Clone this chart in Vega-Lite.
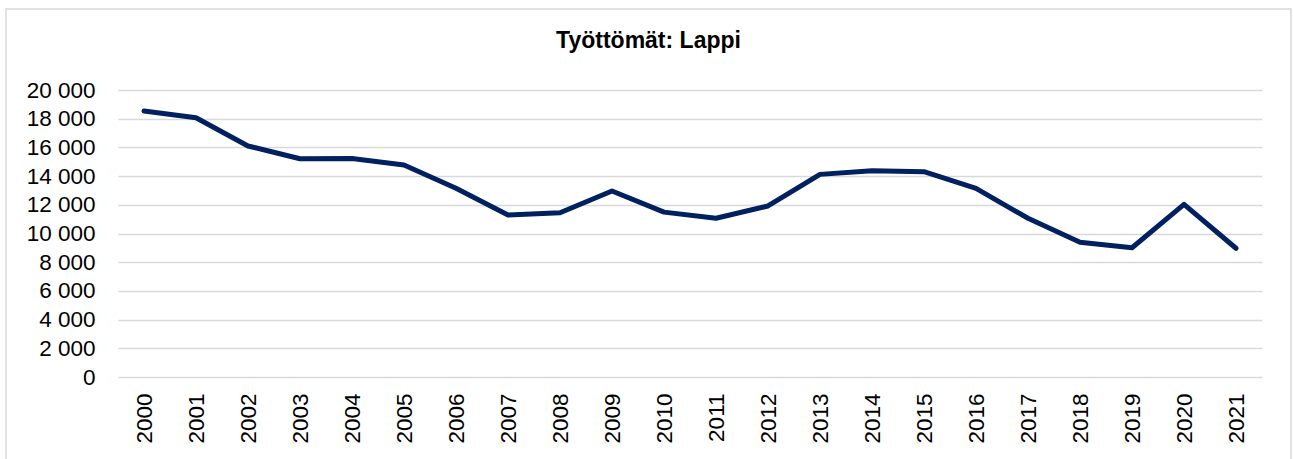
{
  "$schema": "https://vega.github.io/schema/vega-lite/v6.json",
  "width": 1285,
  "height": 452,
  "autosize": {"type": "none"},
  "padding": {"left": 6, "top": 9, "right": 2, "bottom": 0},
  "background": "#ffffff",
  "title": {
    "text": "Työttömät: Lappi",
    "font": "Liberation Sans",
    "fontSize": 23,
    "fontWeight": "bold",
    "color": "#000000",
    "anchor": "middle",
    "frame": "group",
    "baseline": "alphabetic",
    "offset": -62
  },
  "data": {
    "values": [
      {"vuosi": "2000", "tyottomat": 18540},
      {"vuosi": "2001", "tyottomat": 18070},
      {"vuosi": "2002", "tyottomat": 16100},
      {"vuosi": "2003", "tyottomat": 15210},
      {"vuosi": "2004", "tyottomat": 15220},
      {"vuosi": "2005", "tyottomat": 14780},
      {"vuosi": "2006", "tyottomat": 13150},
      {"vuosi": "2007", "tyottomat": 11290},
      {"vuosi": "2008", "tyottomat": 11450},
      {"vuosi": "2009", "tyottomat": 12960},
      {"vuosi": "2010", "tyottomat": 11490},
      {"vuosi": "2011", "tyottomat": 11060},
      {"vuosi": "2012", "tyottomat": 11920},
      {"vuosi": "2013", "tyottomat": 14120},
      {"vuosi": "2014", "tyottomat": 14370},
      {"vuosi": "2015", "tyottomat": 14310},
      {"vuosi": "2016", "tyottomat": 13150},
      {"vuosi": "2017", "tyottomat": 11060},
      {"vuosi": "2018", "tyottomat": 9390},
      {"vuosi": "2019", "tyottomat": 9010},
      {"vuosi": "2020", "tyottomat": 12030},
      {"vuosi": "2021", "tyottomat": 8970}
    ]
  },
  "mark": {
    "type": "line",
    "color": "#002060",
    "strokeWidth": 5,
    "strokeCap": "round",
    "strokeJoin": "round"
  },
  "encoding": {
    "x": {
      "field": "vuosi",
      "type": "ordinal",
      "scale": {"type": "point", "range": [112, 1256], "padding": 0.5},
      "axis": {
        "title": null,
        "labelAngle": -90,
        "labelFont": "Liberation Sans",
        "labelFontSize": 22.5,
        "labelColor": "#000000",
        "domain": false,
        "ticks": false,
        "tickSize": 0,
        "labelPadding": 16,
        "offset": -84,
        "grid": false
      }
    },
    "y": {
      "field": "tyottomat",
      "type": "quantitative",
      "scale": {"domain": [0, 20000], "range": [368, 81], "nice": false},
      "axis": {
        "title": null,
        "values": [0, 2000, 4000, 6000, 8000, 10000, 12000, 14000, 16000, 18000, 20000],
        "format": ",d",
        "labelFont": "Liberation Sans",
        "labelFontSize": 22.5,
        "labelColor": "#000000",
        "domain": false,
        "ticks": false,
        "tickSize": 0,
        "labelPadding": 23,
        "offset": -112,
        "grid": true,
        "gridColor": "#d9d9d9",
        "gridWidth": 1.5
      }
    }
  },
  "config": {
    "view": {"stroke": "#d9d9d9", "strokeWidth": 1.5},
    "locale": {
      "number": {
        "decimal": ",",
        "thousands": " ",
        "grouping": [3],
        "currency": ["", " €"]
      }
    }
  }
}
